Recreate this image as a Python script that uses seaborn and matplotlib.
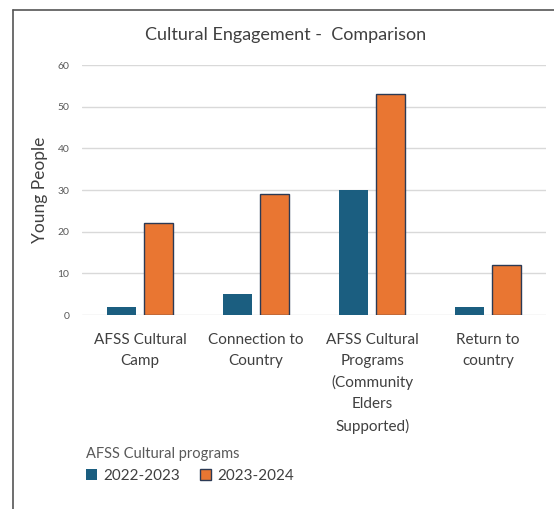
import matplotlib
matplotlib.use("Agg")
import matplotlib.pyplot as plt
import seaborn as sns
import pandas as pd
from matplotlib.lines import Line2D
from matplotlib.patches import Patch

categories = ["AFSS Cultural\nCamp", "Connection to\nCountry",
              "AFSS Cultural\nPrograms\n(Community\nElders\nSupported)", "Return to\ncountry"]
series_names = ["2022-2023", "2023-2024"]
values_2022 = [2, 5, 30, 2]
values_2023 = [22, 29, 53, 12]
yticks = [0, 10, 20, 30, 40, 50, 60]

colors = ["#1B5E80", "#E97632"]

df = pd.DataFrame({
    "category": categories * 2,
    "period": [series_names[0]] * 4 + [series_names[1]] * 4,
    "value": values_2022 + values_2023,
})

sns.set_theme(style="white")
plt.rcParams["font.family"] = ["Lato", "DejaVu Sans"]

fig = plt.figure(figsize=(5.54, 5.09), dpi=100)
ax = fig.add_axes([0.148, 0.381, 0.838, 0.491])

sns.barplot(data=df, x="category", y="value", hue="period", order=categories,
            hue_order=series_names, palette=colors, width=0.638, gap=0.216,
            saturation=1, ax=ax, legend=False)

for p in ax.patches:
    fc = p.get_facecolor()
    if fc[0] > 0.5:
        p.set_edgecolor("#2B3A55")
        p.set_linewidth(1.0)
    else:
        p.set_edgecolor("none")

ax.set_ylim(0, 60)
ax.set_yticks(yticks)
ax.set_xlim(-0.5, 3.5)
ax.yaxis.grid(True, color="#D9D9D9", linewidth=1)
ax.set_axisbelow(True)
for s in ax.spines.values():
    s.set_visible(False)
ax.tick_params(axis="y", length=0, labelsize=7.5, labelcolor="#595959", pad=9)
ax.tick_params(axis="x", length=0, labelsize=11, labelcolor="#404040", pad=13)
for t in ax.get_xticklabels():
    t.set_linespacing(1.62)
    t.set_verticalalignment("top")
ax.set_xlabel("")
ax.set_ylabel("Young People", fontsize=12.5, color="#404040", labelpad=7)

fig.text(0.515, 0.931, "Cultural Engagement -  Comparison", ha="center", va="center",
         fontsize=13, color="#404040")

handles = [Patch(facecolor=colors[0], edgecolor="none"),
           Patch(facecolor=colors[1], edgecolor="#2B3A55", linewidth=1)]
leg = fig.legend(handles, series_names, title="AFSS Cultural programs", ncol=2,
                 loc="upper left", bbox_to_anchor=(0.13, 0.149), frameon=False,
                 fontsize=11, title_fontsize=10.5, handlelength=0.75, handleheight=0.75,
                 handletextpad=0.4, columnspacing=1.3, alignment="left")
for t in leg.get_texts():
    t.set_color("#404040")
leg.get_title().set_color("#595959")

# chart border (top and left)
fig.add_artist(Line2D([13 / 554, 13 / 554], [0, 1 - 10 / 509], color="#555555", linewidth=1.2,
                      transform=fig.transFigure))
fig.add_artist(Line2D([13 / 554, 1], [1 - 10 / 509, 1 - 10 / 509], color="#555555", linewidth=1.2,
                      transform=fig.transFigure))

fig.savefig("out.png", dpi=100)
